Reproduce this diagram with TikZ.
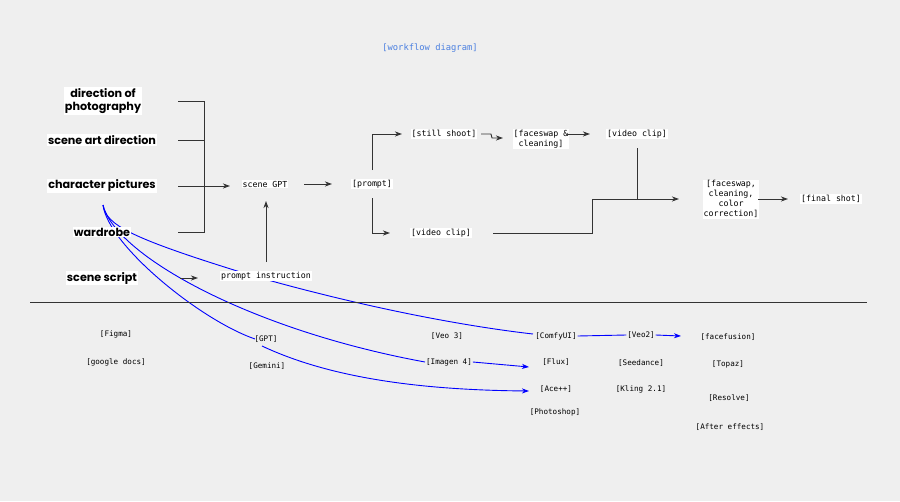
\documentclass[tikz,border=0pt]{standalone}
\usepackage{fontspec}
\setmainfont{Poppins}
\newfontfamily\monof{DejaVu Sans Mono}
\usetikzlibrary{arrows.meta}
\definecolor{bg}{HTML}{EFEFEF}
\definecolor{tblue}{HTML}{4A7FE0}
\begin{document}
\begin{tikzpicture}[x=1pt,y=-1pt,
  lab/.style={fill=white,inner sep=1pt,font=\fontsize{11.2}{13}\selectfont\bfseries,align=center},
  mono/.style={fill=white,inner sep=0.8pt,font=\monof\fontsize{8.3}{10}\selectfont,align=center},
  tool/.style={inner sep=0.8pt,font=\monof\fontsize{7.6}{9}\selectfont},
  ln/.style={draw=black!80,line width=0.9pt},
  arr/.style={ln,-{Stealth[length=7pt,width=5pt,inset=2pt]}},
  bl/.style={draw=blue,line width=0.9pt},
  barr/.style={bl,-{Stealth[length=7pt,width=5pt,inset=2pt]}}]
\fill[bg] (0,0) rectangle (900,501);
\useasboundingbox (0,0) rectangle (900,501);
\node[font=\monof\fontsize{8.8}{10}\selectfont,text=tblue] (title) at (430,48) {[workflow diagram]};
\coordinate (cb) at (103,205);
\draw[bl] (cb) .. controls (106,225) and (130,238) .. (250,275) .. controls (380,312) and (480,328) .. (533,334);
\draw[bl] (cb) .. controls (108,245) and (200,320) .. (255,339);
\draw[bl] (cb) .. controls (115,255) and (250,330) .. (425,362);
\node[lab] (dop) at (103,101) {direction of\\photography};
\node[lab] (sad) at (102,140) {scene art direction};
\node[lab] (cp) at (102,186) {character pictures};
\node[lab] (wr) at (102,232) {wardrobe};
\node[lab] (ss) at (102,278) {scene script};
\node[mono] (gpt) at (265,184) {scene GPT};
\node[mono] (pr) at (372,184) {[prompt]};
\node[mono] (pi) at (266,276) {prompt instruction};
\node[mono] (st) at (444,134) {[still shoot]};
\node[mono] (vc1) at (441,233) {[video clip]};
\node[mono] (fc) at (541,139) {[faceswap \&\\cleaning]};
\node[mono] (vc2) at (637,134) {[video clip]};
\node[mono] (fcc) at (731,199) {[faceswap,\\cleaning,\\color\\correction]};
\node[mono] (fs) at (831,199) {[final shot]};
\draw[ln] (178,101) -| (204,232) -- (178,232);
\draw[ln] (178,140) -- (204,140);
\draw[ln] (178,186) -- (204,186);
\draw[arr] (204,186) -- (230,186);
\draw[arr] (304,184) -- (332,184);
\draw[arr] (266,262) -- (266,201);
\draw[arr] (180,278) -- (198,278);
\draw[arr] (372,170) |- (402,134);
\draw[arr] (372,198) |- (390,233);
\draw[arr] (481,134) -- (491,134) -- (492,138) -- (503,138);
\draw[arr] (567,134) -- (590,134);
\draw[ln] (637,148) -- (637,199);
\draw[arr] (493,233) -| (592,199) -- (679,199);
\draw[arr] (758,199) -- (788,199);
\draw[draw=black!80,line width=0.7pt] (30,302) -- (867,302);
% tools
\node[tool] (figma) at (116,334) {[Figma]};
\node[tool] (gdocs) at (116,362) {[google docs]};
\node[tool] (tgpt) at (266,339) {[GPT]};
\node[tool] (gem) at (267,366) {[Gemini]};
\node[tool] (veo3) at (447,336) {[Veo 3]};
\node[tool] (img) at (449,362) {[Imagen 4]};
\node[tool] (comfy) at (556,336) {[ComfyUI]};
\node[tool] (flux) at (556,362) {[Flux]};
\node[tool] (ace) at (556,389) {[Ace++]};
\node[tool] (ps) at (555,412) {[Photoshop]};
\node[tool] (veo2) at (641,335) {[Veo2]};
\node[tool] (seed) at (641,363) {[Seedance]};
\node[tool] (kling) at (641,389) {[Kling 2.1]};
\node[tool] (ff) at (728,337) {[facefusion]};
\node[tool] (topaz) at (728,364) {[Topaz]};
\node[tool] (res) at (729,398) {[Resolve]};
\node[tool] (ae) at (730,427) {[After effects]};
\draw[bl] (comfy.east) -- (veo2.west);
\draw[barr] (veo2.east) -- (681,336);
\draw[barr] (img.east) -- (529,367);
\draw[barr] (262,346) .. controls (330,378) and (420,390) .. (529,391);
\end{tikzpicture}
\end{document}
